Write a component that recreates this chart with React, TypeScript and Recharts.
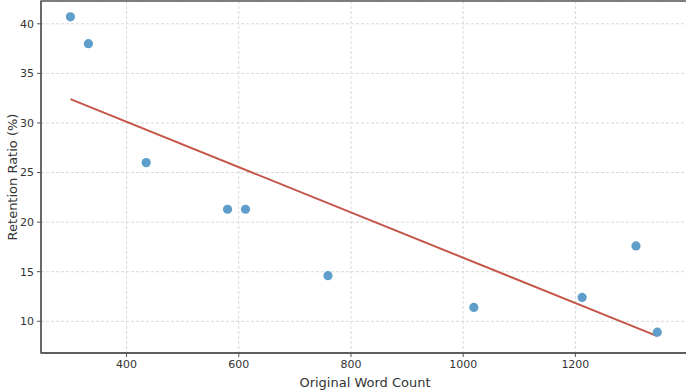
import {
  ComposedChart,
  Scatter,
  Line,
  XAxis,
  YAxis,
  CartesianGrid,
  ReferenceArea,
} from "recharts";

// word counts and retention ratios
const wordCounts = [300, 332, 435, 580, 612, 759, 1019, 1212, 1308, 1346];
const retention = [40.7, 38.0, 26.0, 21.3, 21.3, 14.6, 11.4, 12.4, 17.6, 8.9];

// fitted trend line end points
const trendX = [300, 1346];
const trendY = [32.4, 8.5];

const xTicks = [400, 600, 800, 1000, 1200];
const yTicks = [10, 15, 20, 25, 30, 35, 40];

const points = wordCounts.map((x, i) => ({ x, y: retention[i] }));
const trend = trendX.map((x, i) => ({ x, y: trendY[i] }));

const font = "'DejaVu Sans', sans-serif";

const Dot = (props: any) => {
  const { cx, cy } = props;
  return <circle cx={cx} cy={cy} r={4.6} fill="#5f9dca" />;
};

export default function App() {
  return (
    <div style={{ width: 686, height: 391, overflow: "hidden" }}>
      <style>{`body{margin:0}`}</style>
      <ComposedChart
        width={689}
        height={391}
        margin={{ top: 1, right: 0, bottom: 0, left: 0 }}
        style={{ fontFamily: font }}
      >
        <CartesianGrid stroke="#d9d9d9" strokeDasharray="3 2" />
        <XAxis
          dataKey="x"
          type="number"
          domain={[247.5, 1402.5]}
          ticks={xTicks}
          allowDataOverflow
          height={38}
          tickSize={4}
          tickMargin={3}
          stroke="#555"
          tick={{ fill: "#333", fontSize: 11 }}
          axisLine={{ stroke: "#555", strokeWidth: 1.3 }}
          label={{
            value: "Original Word Count",
            position: "insideBottom",
            offset: 4,
            fill: "#333",
            fontSize: 13,
          }}
        />
        <YAxis
          dataKey="y"
          type="number"
          domain={[6.8, 42.3]}
          ticks={yTicks}
          allowDataOverflow
          width={41}
          tickSize={4}
          tickMargin={3}
          stroke="#555"
          tick={{ fill: "#333", fontSize: 11 }}
          axisLine={{ stroke: "#555", strokeWidth: 1.3 }}
          label={{
            value: "Retention Ratio (%)",
            angle: -90,
            position: "insideLeft",
            offset: 12,
            fill: "#333",
            fontSize: 13,
            style: { textAnchor: "middle" },
          }}
        />
        <ReferenceArea
          x1={247.5}
          x2={1402.5}
          y1={6.8}
          y2={42.3}
          fill="none"
          stroke="#555"
          strokeWidth={1.3}
        />
        <Line
          data={trend}
          dataKey="y"
          stroke="#c4574a"
          strokeWidth={2}
          dot={false}
          activeDot={false}
          isAnimationActive={false}
        />
        <Scatter data={points} dataKey="y" shape={<Dot />} isAnimationActive={false} />
      </ComposedChart>
    </div>
  );
}
